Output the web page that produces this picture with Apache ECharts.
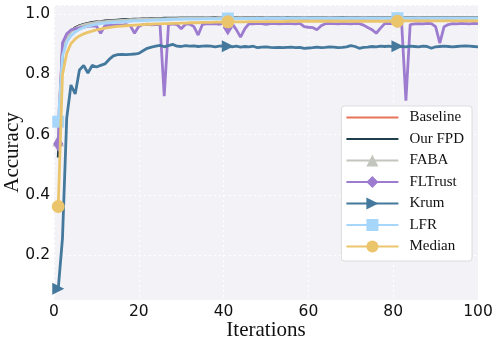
<!DOCTYPE html>
<html>
<head>
<meta charset="utf-8">
<script src="https://cdn.jsdelivr.net/npm/echarts@6/dist/echarts.min.js"></script>
<style>
  html, body { margin: 0; padding: 0; background: #fff; }
  #chart { width: 498px; height: 344px; }
</style>
</head>
<body>
<div id="chart"></div>
<script>
// accuracy per iteration (1..100)
var seriesNames = ['Baseline', 'Our FPD', 'FABA', 'FLTrust', 'Krum', 'LFR', 'Median'];
var xTicks = [0, 20, 40, 60, 80, 100];
var yTicks = [0.2, 0.4, 0.6, 0.8, 1.0];
var markerIdx = [0, 40, 80];

var baseline = [0.620,0.885,0.928,0.945,0.955,0.962,0.966,0.969,0.972,0.974,
  0.975,0.977,0.978,0.979,0.980,0.981,0.982,0.982,0.983,0.983,
  0.984,0.984,0.984,0.985,0.985,0.985,0.985,0.985,0.986,0.986,
  0.986,0.986,0.986,0.986,0.987,0.986,0.987,0.987,0.986,0.987,
  0.987,0.987,0.987,0.987,0.987,0.986,0.987,0.987,0.987,0.987,
  0.987,0.987,0.988,0.987,0.987,0.987,0.988,0.987,0.987,0.987,
  0.988,0.987,0.987,0.988,0.987,0.988,0.987,0.987,0.988,0.987,
  0.988,0.987,0.988,0.987,0.988,0.987,0.988,0.988,0.987,0.988,
  0.988,0.987,0.988,0.988,0.987,0.988,0.988,0.987,0.988,0.988,
  0.988,0.988,0.987,0.988,0.988,0.988,0.987,0.988,0.988,0.988];
var fpd = [0.524,0.880,0.925,0.944,0.955,0.962,0.967,0.970,0.973,0.975,
  0.976,0.978,0.979,0.980,0.981,0.982,0.983,0.983,0.984,0.984,
  0.985,0.985,0.986,0.986,0.986,0.987,0.987,0.987,0.987,0.988,
  0.988,0.988,0.988,0.988,0.988,0.988,0.988,0.989,0.988,0.988,
  0.989,0.988,0.989,0.988,0.989,0.989,0.988,0.989,0.989,0.988,
  0.989,0.989,0.989,0.988,0.989,0.989,0.989,0.989,0.988,0.989,
  0.989,0.989,0.989,0.989,0.988,0.989,0.989,0.989,0.989,0.989,
  0.989,0.989,0.988,0.989,0.989,0.989,0.989,0.989,0.989,0.989,
  0.989,0.989,0.989,0.989,0.989,0.988,0.989,0.989,0.989,0.989,
  0.989,0.989,0.989,0.989,0.989,0.989,0.989,0.989,0.989,0.989];
var faba = [0.580,0.875,0.922,0.942,0.953,0.960,0.965,0.968,0.971,0.973,
  0.975,0.976,0.977,0.978,0.979,0.980,0.981,0.982,0.982,0.983,
  0.983,0.984,0.984,0.985,0.985,0.985,0.986,0.986,0.986,0.987,
  0.987,0.987,0.987,0.987,0.987,0.988,0.987,0.987,0.988,0.988,
  0.988,0.987,0.988,0.988,0.988,0.988,0.987,0.988,0.988,0.988,
  0.988,0.988,0.988,0.988,0.987,0.988,0.988,0.988,0.988,0.988,
  0.988,0.988,0.988,0.988,0.988,0.988,0.988,0.987,0.988,0.988,
  0.988,0.988,0.988,0.988,0.988,0.988,0.988,0.988,0.988,0.988,
  0.988,0.988,0.988,0.988,0.988,0.988,0.988,0.988,0.988,0.988,
  0.988,0.988,0.988,0.988,0.988,0.988,0.988,0.988,0.988,0.988];
var fltrust = [0.570,0.905,0.935,0.948,0.952,0.955,0.957,0.960,0.962,0.961,
  0.937,0.962,0.964,0.963,0.965,0.964,0.966,0.962,0.937,0.960,
  0.966,0.967,0.965,0.966,0.966,0.728,0.966,0.968,0.966,0.952,
  0.967,0.968,0.959,0.931,0.966,0.969,0.968,0.969,0.967,0.970,
  0.956,0.969,0.949,0.924,0.952,0.969,0.968,0.970,0.969,0.967,
  0.969,0.970,0.968,0.969,0.970,0.969,0.968,0.970,0.959,0.957,
  0.956,0.949,0.962,0.969,0.970,0.969,0.968,0.970,0.969,0.968,
  0.970,0.969,0.964,0.956,0.949,0.937,0.954,0.969,0.970,0.969,
  0.980,0.969,0.713,0.966,0.968,0.969,0.968,0.970,0.969,0.959,
  0.904,0.959,0.966,0.969,0.968,0.970,0.969,0.968,0.970,0.969];
var krum = [0.087,0.255,0.655,0.765,0.735,0.815,0.830,0.805,0.830,0.825,
  0.830,0.835,0.850,0.862,0.866,0.867,0.866,0.867,0.868,0.870,
  0.879,0.887,0.891,0.894,0.897,0.892,0.896,0.900,0.894,0.893,
  0.896,0.894,0.895,0.893,0.894,0.895,0.894,0.892,0.894,0.895,
  0.894,0.892,0.894,0.891,0.893,0.892,0.894,0.889,0.891,0.892,
  0.890,0.889,0.890,0.889,0.890,0.891,0.889,0.890,0.887,0.888,
  0.889,0.891,0.889,0.890,0.892,0.891,0.889,0.890,0.892,0.896,
  0.893,0.887,0.890,0.891,0.893,0.892,0.894,0.893,0.894,0.892,
  0.894,0.893,0.892,0.894,0.893,0.892,0.894,0.893,0.887,0.892,
  0.893,0.894,0.893,0.892,0.893,0.894,0.895,0.894,0.893,0.892];
var lfr = [0.643,0.860,0.908,0.928,0.941,0.950,0.956,0.961,0.964,0.967,
  0.969,0.971,0.972,0.973,0.974,0.975,0.976,0.977,0.978,0.978,
  0.979,0.980,0.980,0.981,0.981,0.982,0.982,0.983,0.983,0.983,
  0.984,0.984,0.984,0.984,0.985,0.985,0.985,0.985,0.985,0.986,
  0.986,0.986,0.986,0.986,0.986,0.986,0.986,0.987,0.986,0.987,
  0.987,0.987,0.987,0.987,0.987,0.987,0.987,0.987,0.987,0.987,
  0.987,0.987,0.987,0.987,0.987,0.987,0.987,0.987,0.987,0.987,
  0.987,0.987,0.987,0.987,0.987,0.987,0.987,0.987,0.987,0.987,
  0.987,0.987,0.987,0.987,0.987,0.987,0.987,0.987,0.987,0.987,
  0.987,0.987,0.987,0.987,0.987,0.987,0.987,0.987,0.987,0.987];
var median = [0.361,0.800,0.870,0.903,0.918,0.928,0.935,0.940,0.944,0.948,
  0.951,0.954,0.956,0.958,0.960,0.961,0.962,0.963,0.964,0.965,
  0.966,0.967,0.967,0.968,0.968,0.969,0.969,0.970,0.970,0.971,
  0.971,0.972,0.972,0.972,0.973,0.973,0.973,0.974,0.974,0.974,
  0.975,0.975,0.975,0.975,0.975,0.976,0.976,0.976,0.976,0.976,
  0.976,0.976,0.976,0.976,0.977,0.977,0.977,0.977,0.977,0.977,
  0.977,0.977,0.977,0.977,0.977,0.977,0.977,0.977,0.977,0.977,
  0.977,0.977,0.977,0.977,0.977,0.977,0.977,0.977,0.977,0.977,
  0.977,0.978,0.978,0.978,0.978,0.978,0.978,0.978,0.978,0.978,
  0.978,0.978,0.978,0.978,0.978,0.978,0.978,0.978,0.978,0.978];

var colors = ['#e8735a', '#1e3e4e', '#c3c6bc', '#9d7cd0', '#44789c', '#a7d6fb', '#ebc56c'];
var symbols = ['none', 'none', 'triangle', 'diamond', 'triangle', 'rect', 'circle'];
var sizes = [0, 0, 12, [10, 16], 12, 12, 13];
var rotates = [0, 0, 0, 0, -90, 0, 0];
var values = [baseline, fpd, faba, fltrust, krum, lfr, median];

function toData(arr) {
  return arr.map(function (v, i) {
    var item = { value: [i + 1, v] };
    if (markerIdx.indexOf(i) < 0) item.symbol = 'none';
    return item;
  });
}

var chart = echarts.init(document.getElementById('chart'));
var option = {
  animation: false,
  grid: {
    left: 54, right: 20, top: 5, bottom: 44,
    outerBoundsMode: 'none',
    show: true, backgroundColor: '#f3f3f7', borderWidth: 0
  },
  legend: {
    orient: 'vertical',
    right: 26, top: 106,
    itemWidth: 52, itemHeight: 15, itemGap: 6.5,
    padding: [4, 8, 7, 4],
    backgroundColor: '#ffffff',
    borderColor: '#dcdcdc', borderWidth: 1, borderRadius: 3,
    textStyle: { fontFamily: 'Liberation Serif', fontSize: 15, color: '#111', padding: [0, 0, 0, 6] },
    data: seriesNames.map(function (name, k) {
      return symbols[k] === 'none' ? { name: name, itemStyle: { opacity: 0 } } : { name: name };
    })
  },
  xAxis: {
    type: 'value', min: 0, max: 100, interval: 20,
    name: 'Iterations', nameLocation: 'middle', nameGap: 20, nameMoveOverlap: false,
    nameTextStyle: { fontFamily: 'Liberation Serif', fontSize: 21, color: '#111' },
    axisLine: { show: false }, axisTick: { show: false },
    axisLabel: { fontFamily: 'DejaVu Sans', fontSize: 15.5, color: '#111', margin: 4 },
    splitLine: { lineStyle: { color: '#ffffff', type: [2, 3], width: 1.2 } }
  },
  yAxis: {
    type: 'value', min: 0.05, max: 1.031,
    name: 'Accuracy', nameLocation: 'middle', nameGap: 31, nameMoveOverlap: false,
    nameTextStyle: { fontFamily: 'Liberation Serif', fontSize: 21, color: '#111' },
    axisLine: { show: false }, axisTick: { show: false },
    axisLabel: {
      fontFamily: 'DejaVu Sans', fontSize: 15.5, color: '#111', margin: 4,
      padding: [6, 0, 0, 0],
      customValues: yTicks,
      formatter: function (v) { return v.toFixed(1); }
    },
    splitLine: { lineStyle: { color: '#ffffff', type: [2, 3], width: 1.2 } }
  },
  series: seriesNames.map(function (name, k) {
    return {
      name: name,
      type: 'line',
      data: toData(values[k]),
      color: colors[k],
      symbol: symbols[k],
      symbolSize: sizes[k],
      symbolRotate: rotates[k],
      showSymbol: true,
      showAllSymbol: true,
      lineStyle: { width: 2.8, color: colors[k] },
      itemStyle: { color: colors[k] },
      z: 2 + k
    };
  })
};
chart.setOption(option);
</script>
</body>
</html>
